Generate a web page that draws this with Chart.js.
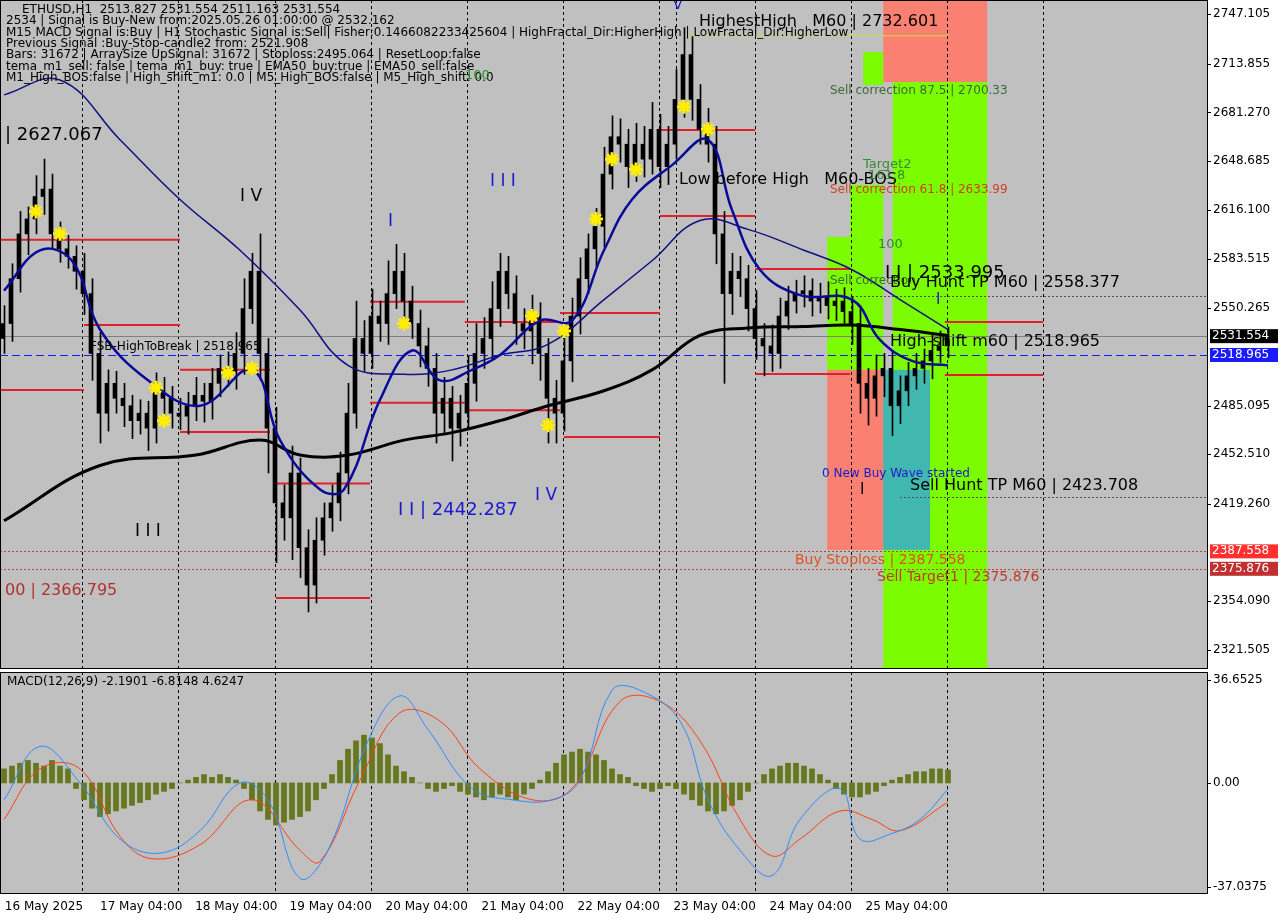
<!DOCTYPE html>
<html>
<head>
<meta charset="utf-8">
<script src="https://cdn.jsdelivr.net/npm/chart.js@4.4.1/dist/chart.umd.min.js"></script>
<style>
  body { margin: 0; background: #fff; width: 1280px; height: 920px; overflow: hidden; font-family: "DejaVu Sans", sans-serif; }
  #main { position: absolute; left: 0; top: 0; }
  #macd { position: absolute; left: 0; top: 670px; }
</style>
</head>
<body>
<canvas id="main" width="1280" height="670"></canvas>
<canvas id="macd" width="1280" height="250"></canvas>
<script>
// ---------------- data -----------------
const closes = [2540,2570,2600,2610,2625,2630,2600,2590,2585,2575,2560,2520,2480,2500,2490,2485,2475,2480,2470,2495,
  2490,2480,2478,2485,2492,2488,2500,2510,2508,2520,2550,2575,2520,2470,2420,2410,2440,2390,2365,2395,
  2410,2420,2440,2480,2530,2520,2545,2540,2560,2575,2555,2540,2525,2510,2480,2490,2470,2480,2500,2520,
  2530,2550,2575,2560,2540,2535,2545,2520,2490,2480,2515,2545,2570,2590,2605,2640,2665,2660,2645,2660,
  2650,2670,2645,2660,2690,2720,2690,2670,2660,2600,2560,2575,2570,2550,2530,2525,2520,2545,2555,2560,
  2562,2555,2558,2552,2555,2548,2540,2500,2490,2505,2510,2485,2495,2505,2510,2515,2522,2525,2531.554];
const wickUp = [12,10,15,8,14,20,10,8,9,7,12,10,14,9,8,10,7,9,8,12,
  9,8,10,9,12,8,10,9,11,14,20,12,25,10,14,12,18,10,12,15,
  10,12,14,20,25,12,18,10,22,18,12,10,9,12,10,14,8,12,18,20,
  14,18,12,10,12,10,14,9,10,12,15,12,14,10,12,18,14,12,10,14,
  12,18,10,12,20,18,12,10,14,12,15,12,10,9,12,10,14,12,10,9,
  10,8,9,10,8,9,10,12,10,14,10,12,10,9,10,8,12,10,6];
const wickDn = [10,12,9,14,10,12,10,9,8,12,14,18,20,12,10,14,12,9,15,10,
  12,10,9,12,10,14,12,9,10,12,14,10,18,30,40,15,28,20,18,12,
  10,9,12,14,10,12,10,12,14,10,12,10,14,12,20,14,22,12,10,12,
  10,14,12,10,14,12,22,18,30,20,12,14,12,10,12,14,10,12,14,10,
  12,10,14,12,10,12,14,10,12,20,60,14,12,15,14,20,12,10,9,8,
  9,10,8,9,10,8,14,20,18,12,14,20,12,10,9,10,12,8,8];

const yTicks = [2747.105, 2713.855, 2681.270, 2648.685, 2616.100, 2583.515, 2550.265, 2485.095, 2452.510, 2419.260, 2354.090, 2321.505];
const macdTicks = [36.6525, 0, -37.0375];
const macdTickText = ['36.6525', '0.00', '-37.0375'];

const maSlowX = [0,12,24,32,37,43,50,56,62,68,75,81,87,93,100,106,112,118];
const maSlowY = [2408,2445,2452,2462,2452,2452,2462,2467,2475,2485,2495,2509,2532,2537,2538,2539,2536,2532];
const ema50X = [0,7,14.5,22,29.5,37,43,50,56,62,68,75,81,87,93,100,106,112,118];
const ema50Y = [2693,2703,2663,2623,2589,2549,2512,2506,2509,2519,2526,2556,2582,2609,2603,2589,2576,2556,2536];
const emaFastX = [0,4.5,8.5,12,18,24.5,31,34.5,39.5,42.5,47,51,54.5,58.5,62,67,71,75,78.5,83.5,88,91,94.5,99.5,106,109.5,113.5,118];
const emaFastY = [2562,2589,2582,2536,2502,2485,2509,2462,2429,2429,2489,2522,2502,2509,2519,2542,2542,2589,2623,2646,2663,2616,2576,2559,2556,2529,2515,2512];

const segStart = [-0.5,-0.5,10,22,22,34,34,45.75,45.75,57.6,57.6,69.5,70,82,82,93.9,93.9,117.6,117.6];
const segEnd   = [22,10,22,33.25,33.25,45.75,45.75,57.6,57.6,69.5,69.5,82,82,93.9,93.9,105.75,105.75,129.9,129.9];
const segPrice = [2596,2495.6,2539,2509,2467.5,2433,2356.4,2554.5,2487,2541,2482,2547,2464,2669.5,2612,2576.5,2506.3,2541,2505.6];

const zoneX0 = [109.9,107.4,111.1,105.75,102.9,102.9,109.9,109.9];
const zoneX1 = [122.9,109.9,122.9,109.9,105.75,109.9,115.75,122.9];
const zoneP0 = [2756.5,2721.7,2701.6,2632.7,2598,2509,2509,2388.5];
const zoneP1 = [2701.6,2699.6,2388.5,2509,2509,2388.5,2388.5,2309.5];
const zoneColor = ['#fa8072','#7cfc00','#7cfc00','#7cfc00','#7cfc00','#fa8072','#40b8b0','#7cfc00'];

const starX = [4,7,19,20,28,31,50,66,70,68,74,76,79,85,88];
const starY = [2615,2600,2497,2475,2507,2510,2540,2545,2535,2472,2610,2650,2643,2685,2670];

const levelPrice = [2531.554, 2518.965, 2387.558, 2375.876];
const levelColor = ['#000000', '#1a1aff', '#ff3030', '#c03030'];

const macdHist = [5,6,7,8,7,6,8,6,5,-2,-6,-9,-12,-11,-10,-9,-8,-7,-6,-4,
  -3,-2,0,1,2,3,2,3,2,1,-2,-6,-10,-13,-15,-14,-13,-12,-10,-6,
  -2,3,8,12,15,17,16,14,10,6,4,2,0,-2,-3,-2,-1,-3,-4,-5,
  -6,-5,-4,-5,-6,-4,-2,1,4,7,10,11,12,11,10,8,5,3,2,-1,
  -2,-3,-2,-1,-2,-4,-6,-8,-10,-11,-10,-8,-6,-3,0,3,5,6,7,7,
  6,5,3,1,-2,-4,-5,-5,-4,-3,-1,1,2,3,4,4,5,5,4.6];
const macdX = [0,4.5,9.5,14.5,19.5,24.5,29.5,33,37,40.5,45.5,49.5,53,58.5,63.5,68.5,72,76,79.5,84.5,88,92,96,99.5,104.5,107,111,114.5,118];
const macdY = [-6,13,0,-20,-25,-17,0,-6,-34,-24,15,31,19,-2,-6,-6,1,33,33,22,-6,-24,-33,-13,-2,-20,-18,-13,-2.2];
const signalX = [0,4.5,9.5,14.5,18.5,24.5,31,37,39.5,44.5,49.5,54.5,59.5,66,71,77,82,87,92,96,99.5,104.5,108.5,112,118];
const signalY = [-13,5,5,-19,-27,-22,-6,-24,-28,1,25,22,5,-6,-2,29,29,15,-13,-26,-20,-10,-13,-17,-6.8];

const dateLabels = ['16 May 2025','17 May 04:00','18 May 04:00','19 May 04:00','20 May 04:00','21 May 04:00','22 May 04:00','23 May 04:00','24 May 04:00','25 May 04:00'];
const dateTickX = [0.1,12,23.9,35.7,47.7,59.7,71.7,83.7,95.7,107.7];
const gridX = [9.75,21.75,33.9,45.9,57.9,69.9,81.9,84,93.9,105.9,117.9,129.9];

const infoLines = [
  'ETHUSD,H1  2513.827 2531.554 2511.163 2531.554',
  '2534 | Signal is Buy-New from:2025.05.26 01:00:00 @ 2532.162',
  'M15 MACD Signal is:Buy | H1 Stochastic Signal is:Sell| Fisher:0.1466082233425604 | HighFractal_Dir:HigherHigh | LowFractal_Dir:HigherLow',
  'Previous Signal :Buy-Stop-candle2 from: 2521.908',
  'Bars: 31672 | ArraySize UpSignal: 31672 | Stoploss:2495.064 | ResetLoop:false',
  'tema_m1_sell: false | tema_m1_buy: true | EMA50_buy:true | EMA50_sell:false',
  'M1_High_BOS:false | High_shift_m1: 0.0 | M5_High_BOS:false | M5_High_shift: 0.0'
];
// [text, px x, px y, colour, size]
const notes = [
  ['HighestHigh   M60 | 2732.601', 699, 22, '#000', 16],
  ['| 2627.067', 5, 135, '#000', 18],
  ['I V', 240, 197, '#000', 17],
  ['I I I', 490, 182, '#1a1acc', 17],
  ['I', 388, 222, '#1a1acc', 17],
  ['V', 673, 5, '#1a1acc', 14],
  ['100', 465, 76, '#2e8b2e', 13],
  ['Low before High   M60-BOS', 679, 180, '#000', 16],
  ['Sell correction 87.5 | 2700.33', 830, 91, '#3a6a3a', 12],
  ['Target2', 863, 165, '#3a8a3a', 13],
  ['161.8', 868, 176, '#3a8a3a', 13],
  ['Sell correction 61.8 | 2633.99', 830, 190, '#d04020', 12],
  ['100', 878, 245, '#2e8b2e', 13],
  ['Sell correction', 830, 281, '#3a6a3a', 12],
  ['I I | 2533.995', 885, 273, '#000', 18],
  ['Buy Hunt TP M60 | 2558.377', 890, 283, '#000', 16],
  ['I', 936, 300, '#1a1acc', 15],
  ['FSB-HighToBreak | 2518.965', 90, 347, '#000', 12],
  ['High-shift m60 | 2518.965', 890, 342, '#000', 16],
  ['0 New Buy Wave started', 822, 474, '#1a1acc', 12],
  ['I', 860, 490, '#000', 15],
  ['Sell Hunt TP M60 | 2423.708', 910, 486, '#000', 16],
  ['I I | 2442.287', 398, 510, '#1a1acc', 18],
  ['I V', 535, 496, '#1a1acc', 17],
  ['I I I', 135, 532, '#000', 17],
  ['Buy Stoploss | 2387.558', 795, 560, '#e05020', 14],
  ['Sell Target1 | 2375.876', 877, 577, '#c0392b', 14],
  ['00 | 2366.795', 5, 591, '#b03030', 16]
];

// ---------------- build datasets -----------------
const opens = closes.map((c, i) => i === 0 ? 2530 : closes[i - 1]);
const bodies = closes.map((c, i) => ({ x: i, y: [opens[i], c] }));
const wicks = closes.map((c, i) => ({ x: i, y: [Math.min(opens[i], c) - wickDn[i], Math.max(opens[i], c) + wickUp[i]] }));
const pts = (xs, ys) => xs.map((x, i) => ({ x, y: ys[i] }));

const FONT = '"DejaVu Sans", sans-serif';

// y axis kept as a blank 72px strip; labels are drawn by hand so the plot
// area can run flush to the canvas edges like MT4
const yAxis = (min, max) => ({
  position: 'right', min, max,
  afterFit: s => { s.width = 72; },
  grid: { display: false }, border: { display: false },
  ticks: { display: false }
});
const xAxis = { type: 'linear', min: -0.5, max: 150.5, display: false, offset: false };

function drawTicks(ctx, a, y, values, texts) {
  ctx.fillStyle = '#000';
  ctx.font = '12px ' + FONT;
  ctx.textBaseline = 'middle';
  values.forEach((v, i) => {
    const py = y.getPixelForValue(v);
    ctx.fillText(texts[i], a.right + 5, py);
    ctx.fillRect(a.right, Math.round(py), 3, 1);
  });
}

function drawGrid(ctx, a, x) {
  ctx.strokeStyle = '#000';
  ctx.lineWidth = 1;
  ctx.setLineDash([3, 3]);
  gridX.forEach(g => {
    const px = Math.round(x.getPixelForValue(g)) + 0.5;
    ctx.beginPath(); ctx.moveTo(px, a.top); ctx.lineTo(px, a.bottom); ctx.stroke();
  });
  ctx.setLineDash([]);
}

// background + zones + grid + segments + texts for main chart
const mainDecor = {
  id: 'mainDecor',
  beforeDatasetsDraw(chart) {
    const { ctx, chartArea: a, scales: { x, y } } = chart;
    ctx.save();
    ctx.fillStyle = '#c0c0c0';
    ctx.fillRect(a.left, a.top, a.right - a.left, a.bottom - a.top);
    zoneX0.forEach((x0, i) => {
      ctx.fillStyle = zoneColor[i];
      const px0 = x.getPixelForValue(x0), px1 = x.getPixelForValue(zoneX1[i]);
      const py0 = y.getPixelForValue(zoneP0[i]), py1 = y.getPixelForValue(zoneP1[i]);
      ctx.fillRect(px0, py0, px1 - px0, py1 - py0);
    });
    drawGrid(ctx, a, x);
    // level lines
    const hline = (p, color, dash, x0) => {
      const py = Math.round(y.getPixelForValue(p)) + 0.5;
      ctx.strokeStyle = color; ctx.setLineDash(dash);
      ctx.beginPath(); ctx.moveTo(x0 !== undefined ? x.getPixelForValue(x0) : a.left, py); ctx.lineTo(a.right, py); ctx.stroke();
    };
    hline(levelPrice[0], '#808080', []);
    hline(levelPrice[1], '#1a1aff', [8, 4]);
    hline(levelPrice[2], '#c04040', [2, 2]);
    hline(levelPrice[3], '#c04040', [2, 2]);
    hline(2558.377, '#505050', [2, 2], 106);
    hline(2423.708, '#505050', [2, 2], 112);
    ctx.setLineDash([]);
    ctx.strokeStyle = '#e0202a';
    ctx.lineWidth = 2;
    segStart.forEach((s, i) => {
      const py = y.getPixelForValue(segPrice[i]);
      ctx.beginPath(); ctx.moveTo(x.getPixelForValue(s), py); ctx.lineTo(x.getPixelForValue(segEnd[i]), py); ctx.stroke();
    });
    ctx.strokeStyle = '#c0e040'; ctx.lineWidth = 1;
    const hh = y.getPixelForValue(2732.601);
    ctx.beginPath(); ctx.moveTo(x.getPixelForValue(85), hh); ctx.lineTo(x.getPixelForValue(118), hh); ctx.stroke();
    ctx.restore();
  },
  afterDraw(chart) {
    const { ctx, chartArea: a, scales: { y } } = chart;
    ctx.save();
    ctx.textBaseline = 'top';
    ctx.fillStyle = '#000';
    ctx.font = '12px ' + FONT;
    infoLines.forEach((t, i) => ctx.fillText(t, i === 0 ? 22 : 6, 4 + i * 11.3));
    notes.forEach(([t, px, py, c, s]) => {
      ctx.fillStyle = c; ctx.font = s + 'px ' + FONT;
      ctx.fillText(t, px, py - s / 2);
    });
    drawTicks(ctx, a, y, yTicks, yTicks.map(v => v.toFixed(3)));
    // price tags
    ctx.font = '12px ' + FONT;
    levelPrice.forEach((p, i) => {
      const py = y.getPixelForValue(p);
      ctx.fillStyle = levelColor[i];
      ctx.fillRect(a.right + 2, py - 7, 68, 14);
      ctx.fillStyle = '#fff';
      ctx.textBaseline = 'middle';
      ctx.fillText(p.toFixed(3), a.right + 4, py);
    });
    ctx.strokeStyle = '#000'; ctx.lineWidth = 1;
    ctx.strokeRect(a.left + 0.5, a.top + 0.5, a.right - a.left - 1, a.bottom - a.top);
    ctx.restore();
  }
};

new Chart(document.getElementById('main'), {
  data: {
    datasets: [
      { type: 'bar', data: wicks, backgroundColor: '#000', barThickness: 1, order: 5 },
      { type: 'bar', data: bodies, backgroundColor: '#000', barThickness: 3, order: 4 },
      { type: 'line', data: pts(maSlowX, maSlowY), borderColor: '#000', borderWidth: 3, pointRadius: 0, tension: 0.4, order: 3 },
      { type: 'line', data: pts(ema50X, ema50Y), borderColor: '#101080', borderWidth: 1.5, pointRadius: 0, tension: 0.4, order: 2 },
      { type: 'line', data: pts(emaFastX, emaFastY), borderColor: '#0a0a9a', borderWidth: 2.5, pointRadius: 0, tension: 0.4, order: 1 },
      { type: 'scatter', data: pts(starX, starY), pointStyle: 'star', pointRadius: 7, borderColor: '#ffee00', borderWidth: 3, order: 0 }
    ]
  },
  options: {
    animation: false, responsive: false,
    layout: { autoPadding: false, padding: { left: 0, top: 0, bottom: 2, right: 0 } },
    plugins: { legend: { display: false }, tooltip: { enabled: false } },
    scales: { x: xAxis, y: yAxis(2309.5, 2756.5) }
  },
  plugins: [mainDecor]
});

// ---------------- MACD panel -----------------
const macdDecor = {
  id: 'macdDecor',
  beforeDatasetsDraw(chart) {
    const { ctx, chartArea: a, scales: { x } } = chart;
    ctx.save();
    ctx.fillStyle = '#c0c0c0';
    ctx.fillRect(a.left, a.top, a.right - a.left, a.bottom - a.top);
    drawGrid(ctx, a, x);
    ctx.restore();
  },
  afterDraw(chart) {
    const { ctx, chartArea: a, scales: { x, y } } = chart;
    ctx.save();
    ctx.fillStyle = '#000';
    ctx.font = '12px ' + FONT;
    ctx.textBaseline = 'top';
    ctx.fillText('MACD(12,26,9) -2.1901 -6.8148 4.6247', 7, a.top + 4);
    dateLabels.forEach((d, i) => ctx.fillText(d, x.getPixelForValue(dateTickX[i]), a.bottom + 8));
    drawTicks(ctx, a, y, macdTicks, macdTickText);
    ctx.strokeStyle = '#000'; ctx.lineWidth = 1;
    ctx.strokeRect(a.left + 0.5, a.top + 0.5, a.right - a.left - 1, a.bottom - a.top);
    ctx.restore();
  }
};

new Chart(document.getElementById('macd'), {
  data: {
    datasets: [
      { type: 'bar', data: macdHist.map((v, i) => ({ x: i, y: v })), backgroundColor: '#66771e', barThickness: 5, order: 3 },
      { type: 'line', data: pts(macdX, macdY), borderColor: '#2d8cff', borderWidth: 1, pointRadius: 0, tension: 0.4, order: 1 },
      { type: 'line', data: pts(signalX, signalY), borderColor: '#ff4010', borderWidth: 1, pointRadius: 0, tension: 0.4, order: 2 }
    ]
  },
  options: {
    animation: false, responsive: false,
    layout: { autoPadding: false, padding: { left: 0, top: 2, bottom: 27, right: 0 } },
    plugins: { legend: { display: false }, tooltip: { enabled: false } },
    scales: { x: xAxis, y: yAxis(-39.2, 39.5) }
  },
  plugins: [macdDecor]
});
</script>
</body>
</html>
